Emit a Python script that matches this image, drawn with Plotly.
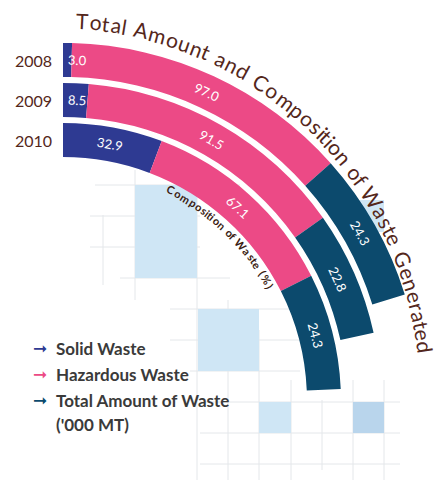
import math
import plotly.graph_objects as go

# ---------------------------------------------------------------- data
years = ["2008", "2009", "2010"]
solid_waste_pct = [3.0, 8.5, 32.9]
hazardous_waste_pct = [97.0, 91.5, 67.1]
total_waste_kmt = [24.3, 22.8, 24.3]

series_names = ["Solid Waste", "Hazardous Waste", "Total Amount of Waste<br>('000 MT)"]
title_text = "Total Amount and Composition of Waste Generated"
ring_caption = "Composition of Waste (%)"

# ---------------------------------------------------------------- style
NAVY, PINK, TEAL = "#2e3a92", "#ec4a86", "#0c4a6d"
BROWN = "#54271b"
LEGEND_TEXT = "#3a3a3a"
FONT = "Lato"

W, H = 442, 492
CX, CY = 63, 401          # centre of the rings (px from the top-left corner)
R_MAX = 374               # radial range; one radial unit == one pixel
RING_OUTER = 358          # outer radius of the first ring
RING_THICK = 34
RING_STEP = 40
COMP_ARC = 288            # arc length (px) that 100 % covers on every ring
DEG_PER_KMT = 1.0         # angular length of the totals, degrees per '000 MT

# Arial/Liberation advance widths (1/1000 em) used to space curved text
CHAR_W = {" ": 278, "T": 611, "o": 556, "t": 278, "a": 556, "l": 222, "A": 667,
          "m": 833, "u": 556, "n": 556, "d": 556, "C": 722, "p": 556, "s": 500,
          "i": 222, "f": 278, "W": 944, "e": 556, "G": 778, "r": 333, "(": 333,
          ")": 333, "%": 889, ".": 278}


def xy(r, theta):
    """polar (r, degrees clockwise from top) -> overlay cartesian coords"""
    t = math.radians(theta)
    return r * math.sin(t), r * math.cos(t)


def text_em(s):
    return sum(CHAR_W.get(c, 556) for c in s) / 1000.0


def arc_text(text, r_first, r_last, th_first, th_last, size, color,
             family=FONT, weight="normal"):
    """one annotation per character, spread along a (slightly spiralling) arc"""
    widths = [CHAR_W.get(c, 556) for c in text]
    centres, acc = [], 0.0
    for w in widths:
        centres.append(acc + w / 2)
        acc += w
    span = centres[-1] - centres[0]
    out = []
    for ch, c in zip(text, centres):
        f = (c - centres[0]) / span
        th = th_first + f * (th_last - th_first)
        r = r_first + f * (r_last - r_first)
        x, y = xy(r, th)
        out.append(dict(x=x, y=y, xref="x", yref="y", text=ch, showarrow=False,
                        textangle=th, xanchor="center", yanchor="middle",
                        font=dict(family=family, size=size, color=color, weight=weight)))
    return out


# ---------------------------------------------------------------- geometry per ring
ring_inner, ring_mid, comp_deg = [], [], []
for i in range(len(years)):
    outer = RING_OUTER - i * RING_STEP
    ring_inner.append(outer - RING_THICK)
    ring_mid.append(outer - RING_THICK / 2)
    comp_deg.append(math.degrees(COMP_ARC / ring_mid[-1]))

segments = {"solid": [], "haz": [], "total": []}
for i in range(len(years)):
    sw = solid_waste_pct[i] / 100 * comp_deg[i]
    hw = hazardous_waste_pct[i] / 100 * comp_deg[i]
    tw = total_waste_kmt[i] * DEG_PER_KMT
    segments["solid"].append((0.0, sw))
    segments["haz"].append((sw, hw))
    segments["total"].append((sw + hw, tw))

fig = go.Figure()

for key, name, colour in [("solid", series_names[0], NAVY),
                          ("haz", series_names[1], PINK),
                          ("total", series_names[2], TEAL)]:
    starts = [s for s, _ in segments[key]]
    widths = [w for _, w in segments[key]]
    fig.add_trace(go.Barpolar(
        name=name,
        theta=[s + w / 2 for s, w in zip(starts, widths)],
        width=widths,
        r=[RING_THICK] * len(years),
        base=ring_inner,
        marker=dict(color=colour, line=dict(width=0)),
        showlegend=False,
        hoverinfo="skip",
    ))

# invisible anchor for the cartesian overlay used by the text
fig.add_trace(go.Scatter(x=[0], y=[0], mode="markers", marker=dict(opacity=0),
                         showlegend=False, hoverinfo="skip"))

annotations = []

# value labels, written along each segment
VAL_SIZE = 13
values = {"solid": solid_waste_pct, "haz": hazardous_waste_pct, "total": total_waste_kmt}
for key in ["solid", "haz", "total"]:
    for i in range(len(years)):
        start, width = segments[key][i]
        label = f"{values[key][i]:.1f}"
        half = text_em(label) * VAL_SIZE / 2 + 5
        th = max(start + width / 2, start + math.degrees(half / ring_mid[i]))
        x, y = xy(ring_mid[i], th)
        annotations.append(dict(x=x, y=y, xref="x", yref="y", text=label,
                                showarrow=False, textangle=th,
                                xanchor="center", yanchor="middle",
                                font=dict(family=FONT, size=VAL_SIZE, color="white")))

# year labels at the start of each ring
for i, yr in enumerate(years):
    annotations.append(dict(x=-9, y=ring_mid[i], xref="x", yref="y", text=yr,
                            showarrow=False, xanchor="right", yanchor="middle",
                            font=dict(family=FONT, size=16, color=BROWN)))

# curved title around the outer ring
annotations += arc_text(title_text, 381, 366, 3.0, 81.5, 21, BROWN)

# curved caption under the hazardous share of the inner ring
start, width = segments["haz"][-1]
cap_mid = start + width / 2 + 2
cap_half = math.degrees(text_em(ring_caption) * 11 * 1.1 / 2 / 237)
annotations += arc_text(ring_caption, 237, 237, cap_mid - cap_half, cap_mid + cap_half,
                        11, "#3a1c12", weight="bold")

# legend
legend_rows = [(348, NAVY, series_names[0]), (374, PINK, series_names[1]),
               (400, TEAL, "Total Amount of Waste")]
for ypx, colour, name in legend_rows:
    annotations.append(dict(x=31 / W, y=1 - ypx / H, xref="paper", yref="paper",
                            text="➞", showarrow=False, xanchor="left", yanchor="middle",
                            font=dict(family="DejaVu Sans", size=17, color=colour)))
    annotations.append(dict(x=54 / W, y=1 - ypx / H, xref="paper", yref="paper",
                            text=name, showarrow=False, xanchor="left", yanchor="middle",
                            font=dict(family=FONT, size=17, color=LEGEND_TEXT, weight="bold")))
annotations.append(dict(x=54 / W, y=1 - 424 / H, xref="paper", yref="paper",
                        text="('000 MT)", showarrow=False, xanchor="left", yanchor="middle",
                        font=dict(family=FONT, size=17, color=LEGEND_TEXT, weight="bold")))

# decorative tiles and faint grid behind the rings
shapes = []
tiles = [(135, 185, 197, 278, "#cfe6f5"), (198, 309, 259, 371, "#cfe6f5"),
         (259, 402, 291, 433, "#cfe6f5"), (353, 402, 384, 433, "#b9d5ec"),
         (353, 200, 384, 232, "#cfe6f5")]
grid_v = [(103, 215, 285), (135, 170, 300), (197, 170, 480), (228, 300, 480),
          (259, 330, 480), (291, 380, 480), (322, 400, 470), (353, 380, 480),
          (384, 380, 480)]
grid_h = [(185, 95, 240), (216, 90, 200), (247, 90, 200), (278, 120, 230),
          (309, 170, 300), (340, 170, 300), (371, 190, 300), (402, 200, 400),
          (433, 200, 400), (464, 200, 400)]
for xpx, y0, y1 in grid_v:
    shapes.append(dict(type="line", xref="paper", yref="paper", layer="below",
                       x0=xpx / W, x1=xpx / W, y0=1 - y0 / H, y1=1 - y1 / H,
                       line=dict(color="#e4e7ea", width=1)))
for ypx, x0, x1 in grid_h:
    shapes.append(dict(type="line", xref="paper", yref="paper", layer="below",
                       x0=x0 / W, x1=x1 / W, y0=1 - ypx / H, y1=1 - ypx / H,
                       line=dict(color="#e4e7ea", width=1)))
for x0, y0, x1, y1, colour in tiles:
    shapes.append(dict(type="rect", xref="paper", yref="paper", layer="below",
                       x0=x0 / W, x1=x1 / W, y0=1 - y1 / H, y1=1 - y0 / H,
                       fillcolor=colour, line=dict(width=0)))

dom_x = [CX / W, (CX + R_MAX) / W]
dom_y = [(H - CY) / H, (H - CY + R_MAX) / H]

fig.update_layout(
    width=W, height=H,
    margin=dict(l=0, r=0, t=0, b=0, pad=0),
    paper_bgcolor="white", plot_bgcolor="rgba(0,0,0,0)",
    polar=dict(
        domain=dict(x=dom_x, y=dom_y),
        sector=[0, 90],
        bgcolor="rgba(0,0,0,0)",
        barmode="overlay",
        radialaxis=dict(range=[0, R_MAX], visible=False),
        angularaxis=dict(rotation=90, direction="clockwise", visible=False),
    ),
    # full-page cartesian overlay, one unit per pixel, origin at the ring centre
    xaxis=dict(domain=[0, 1], range=[-CX, W - CX], visible=False, fixedrange=True),
    yaxis=dict(domain=[0, 1], range=[-(H - CY), CY], visible=False, fixedrange=True),
    annotations=annotations,
    shapes=shapes,
    showlegend=False,
)

fig.write_html("out.html")
